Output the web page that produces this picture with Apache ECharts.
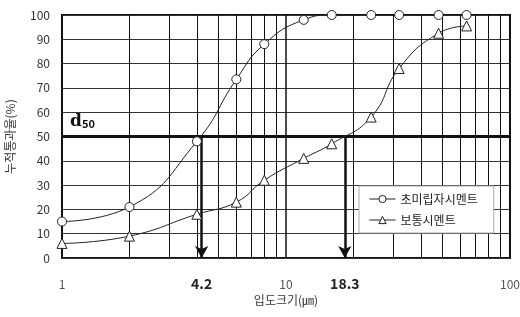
<!DOCTYPE html>
<html>
<head>
<meta charset="utf-8">
<script src="https://cdn.jsdelivr.net/npm/echarts@6/dist/echarts.min.js"></script>
<style>
  html, body { margin: 0; padding: 0; background: #fff; }
  #chart { width: 520px; height: 317px; }
</style>
</head>
<body>
<div id="chart"></div>
<script>
// particle size (um) and cumulative passing (%)
var sizes = [1, 2, 4, 6, 8, 12, 16, 24, 32, 48, 64];
var ultraFine = [15, 21, 48, 73.5, 88, 98, 100, 100, 100, 100, 100];
var ordinary = [6, 9, 18, 23, 32, 41, 47, 58, 78, 92.5, 95.5];
var minorGrid = [2, 3, 4, 5, 6, 7, 8, 9, 20, 30, 40, 50, 60, 70, 80, 90];
var d50Sizes = [4.2, 18.3];
var d50Value = 50;
var seriesNames = ['초미립자시멘트', '보통시멘트'];

var font = '"Noto Sans CJK KR", "Noto Sans", sans-serif';

function pairs(ys) {
    var out = [];
    for (var i = 0; i < sizes.length; i++) {
        out.push([sizes[i], ys[i]]);
    }
    return out;
}

var gridLines = [];
for (var i = 0; i < minorGrid.length; i++) {
    gridLines.push({ xAxis: minorGrid[i] });
}

var arrows = [];
for (var i = 0; i < d50Sizes.length; i++) {
    arrows.push([
        { coord: [d50Sizes[i], d50Value], symbol: 'none' },
        { coord: [d50Sizes[i], 0], symbol: 'arrow',
          label: { show: true, position: 'end', distance: 19, formatter: String(d50Sizes[i]),
                   fontFamily: font, fontWeight: 'bold', fontSize: 14, color: '#222' } }
    ]);
}

var mychart = echarts.init(document.getElementById('chart'));

mychart.setOption({
    animation: false,
    textStyle: { fontFamily: font },
    grid: {
        left: 62, right: 10, top: 15, bottom: 59,
        outerBoundsMode: 'none',
        containLabel: false,
        show: true, borderColor: '#111', borderWidth: 2, backgroundColor: 'transparent'
    },
    legend: {
        data: seriesNames,
        orient: 'vertical',
        left: 359, top: 186,
        padding: [7, 16, 7, 10],
        itemWidth: 26, itemHeight: 9, itemGap: 9,
        backgroundColor: '#fff',
        borderColor: '#aaa', borderWidth: 1,
        lineStyle: { width: 1 },
        itemStyle: { borderWidth: 1 },
        textStyle: { fontFamily: font, fontSize: 12, color: '#222' }
    },
    xAxis: {
        type: 'log',
        logBase: 10,
        min: 1, max: 100,
        name: '입도크기(㎛)',
        nameLocation: 'middle',
        nameGap: 36,
        nameTextStyle: { fontFamily: font, fontSize: 12, color: '#333' },
        axisLine: { show: false },
        axisTick: { show: false },
        axisLabel: { margin: 20, fontSize: 12, color: '#555', fontFamily: font },
        splitLine: { show: true, lineStyle: { color: '#111', width: 1.5 } }
    },
    yAxis: {
        type: 'value',
        min: 0, max: 100, interval: 10,
        name: '누적통과율(%)',
        nameLocation: 'middle',
        nameRotate: 90,
        nameGap: 46,
        nameTextStyle: { fontFamily: font, fontSize: 12, color: '#333' },
        axisLine: { show: false },
        axisTick: { show: false },
        axisLabel: { margin: 12, fontSize: 12, color: '#333', fontFamily: font },
        splitLine: { show: true, lineStyle: { color: '#333', width: 1 } }
    },
    series: [
        {
            name: seriesNames[0],
            type: 'line',
            smooth: true,
            data: pairs(ultraFine),
            symbol: 'circle',
            symbolSize: 9,
            z: 5,
            lineStyle: { color: '#222', width: 1 },
            itemStyle: { color: '#fff', borderColor: '#222', borderWidth: 1 },
            markLine: {
                silent: true,
                symbol: 'none',
                label: { show: false },
                lineStyle: { color: '#111', width: 1, type: 'solid' },
                data: gridLines,
                z: 1
            }
        },
        {
            name: seriesNames[1],
            type: 'line',
            smooth: true,
            data: pairs(ordinary),
            symbol: 'triangle',
            symbolSize: 10,
            z: 5,
            lineStyle: { color: '#222', width: 1 },
            itemStyle: { color: '#fff', borderColor: '#222', borderWidth: 1 }
        },
        {
            name: 'd50',
            type: 'line',
            data: [],
            markLine: {
                silent: true,
                symbol: 'none',
                symbolSize: [10, 12],
                lineStyle: { color: '#111', width: 2.5, type: 'solid' },
                data: [
                    {
                        yAxis: d50Value,
                        lineStyle: { width: 3 },
                        label: {
                            show: true,
                            position: 'insideStartTop',
                            distance: [8, 6],
                            formatter: '{d|d}{s|50}',
                            rich: {
                                d: { fontFamily: 'DejaVu Serif', fontSize: 17, fontWeight: 'bold', color: '#111' },
                                s: { fontFamily: font, fontSize: 11, fontWeight: 'bold', color: '#111', padding: [4, 0, 0, 0] }
                            }
                        }
                    }
                ].concat(arrows)
            }
        }
    ]
});
</script>
</body>
</html>
